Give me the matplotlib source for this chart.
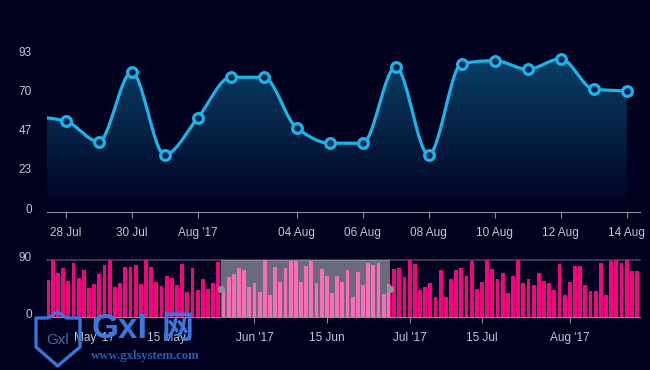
import numpy as np
import pandas as pd
import matplotlib
matplotlib.use('Agg')
import matplotlib.pyplot as plt
import matplotlib.dates as mdates
from matplotlib.colors import LinearSegmentedColormap
from matplotlib.patches import Polygon, Rectangle
from matplotlib.transforms import ScaledTranslation

plt.rcParams['font.family'] = ['Liberation Sans', 'DejaVu Sans']

# main chart, first day sits left of the visible range
main_start = '2017-07-27'
main_values = [56.7, 53.6, 41.4, 82.5, 33.7, 55.4, 79.5, 79.5, 49.5, 40.5,
               40.5, 85.5, 33.7, 87.6, 89.3, 84.2, 90.4, 72.4, 71.4]
main_tick_dates = ['2017-07-28', '2017-07-30', '2017-08-01', '2017-08-04', '2017-08-06',
                   '2017-08-08', '2017-08-10', '2017-08-12', '2017-08-14']
main_tick_labels = ['28 Jul', '30 Jul', "Aug '17", '04 Aug', '06 Aug',
                    '08 Aug', '10 Aug', '12 Aug', '14 Aug']
main_yticks = [0, 23.25, 46.5, 69.75, 93]
main_ylabels = ['0', '23', '47', '70', '93']

# brush chart
bar_start = '2017-04-22'
bar_values = [58, 90, 69, 77, 57, 85, 62, 75, 46, 52, 68, 82, 90, 47, 53, 79, 79, 82, 52, 90,
              79, 55, 49, 65, 61, 51, 84, 40, 77, 42, 60, 45, 53, 87, 45, 63, 68, 78, 75, 47,
              53, 39, 90, 34, 79, 56, 77, 89, 88, 55, 80, 88, 54, 76, 64, 38, 64, 55, 74, 32,
              71, 50, 85, 82, 86, 37, 52, 76, 78, 63, 90, 84, 42, 48, 54, 31, 74, 31, 60, 75,
              77, 65, 88, 44, 55, 90, 76, 60, 70, 38, 65, 90, 53, 60, 51, 70, 57, 54, 42, 84,
              34, 56, 80, 80, 50, 41, 41, 86, 34, 88, 90, 86, 90, 73, 72]
bar_tick_dates = ['2017-05-01', '2017-05-15', '2017-06-01', '2017-06-15',
                  '2017-07-01', '2017-07-15', '2017-08-01']
bar_tick_labels = ["May '17", '15 May', "Jun '17", '15 Jun', "Jul '17", '15 Jul', "Aug '17"]
brush_range = ['2017-05-25 12:00', '2017-06-27 07:00']

BG = '#00001f'
LINE = '#1ab4e8'
TEXT = '#c4c8d4'
AXIS = '#8c8ca4'
PINK = '#f2067e'
W, H = 650, 370


def px_axes(fig, left, top, right, bottom):
    return fig.add_axes([left / W, 1 - bottom / H, (right - left) / W, (bottom - top) / H])


def monotone_curve(x, y, n=30):
    # same idea as d3 curveMonotoneX, only used to draw between the points
    x = np.asarray(x, float)
    y = np.asarray(y, float)
    h = np.diff(x)
    s = np.diff(y) / h
    m = np.zeros(len(x))
    m[1:-1] = np.where(s[:-1] * s[1:] <= 0, 0,
                       2 * s[:-1] * s[1:] / (s[:-1] + s[1:]))
    m[0] = s[0]
    m[-1] = s[-1]
    xs, ys = [], []
    for i in range(len(h)):
        t = np.linspace(0, 1, n)
        xs.append(x[i] + t * h[i])
        ys.append((2*t**3 - 3*t**2 + 1) * y[i] + (t**3 - 2*t**2 + t) * h[i] * m[i]
                  + (-2*t**3 + 3*t**2) * y[i+1] + (t**3 - t**2) * h[i] * m[i+1])
    return np.concatenate(xs), np.concatenate(ys)


def style_axes(ax):
    ax.set_facecolor('none')
    for s in ['top', 'right', 'left']:
        ax.spines[s].set_visible(False)
    ax.spines['bottom'].set_color(AXIS)
    ax.spines['bottom'].set_linewidth(0.8)
    ax.tick_params(axis='x', colors=AXIS, length=4, width=0.8, labelcolor=TEXT,
                   labelsize=8.5, pad=7)
    ax.tick_params(axis='y', length=0, labelcolor=TEXT, labelsize=8.5, pad=10.8)
    shift = ScaledTranslation(0, 3.4 / 100, ax.figure.dpi_scale_trans)
    for lab in ax.get_yticklabels():
        lab.set_transform(lab.get_transform() + shift)


fig = plt.figure(figsize=(W / 100, H / 100), dpi=100, facecolor=BG)

# main chart
ax = px_axes(fig, 46.7, 54.4, 640, 211.7)
main_dates = pd.date_range(main_start, periods=len(main_values))
xnum = mdates.date2num(main_dates)
x0 = mdates.date2num(pd.Timestamp('2017-07-28'))
cx, cy = monotone_curve(xnum, main_values)

cmap = LinearSegmentedColormap.from_list('fade', [BG, '#0a3f66'])
grad = np.linspace(1, 0, 200).reshape(-1, 1)
img = ax.imshow(grad, cmap=cmap, vmin=0, vmax=1, aspect='auto', zorder=1,
                extent=[xnum[0], xnum[-1], 0, max(main_values)])
ax.set_xlim(x0 - 19 / 33, x0 + 574.3 / 33)
ax.set_ylim(0, 93)
poly = Polygon(np.column_stack([np.r_[cx, cx[-1], cx[0]], np.r_[cy, 0, 0]]),
               closed=True, transform=ax.transData, facecolor='none', edgecolor='none')
ax.add_patch(poly)
img.set_clip_path(poly)

ax.plot(cx, cy, color=LINE, lw=2.3, zorder=3, solid_capstyle='round')
ax.plot(main_dates[1:], main_values[1:], ls='none', marker='o', ms=7, mew=2.3,
        mec=LINE, mfc='#03234a', zorder=4, clip_on=False)

ax.set_xticks(mdates.date2num(pd.to_datetime(main_tick_dates)))
ax.set_xticklabels(main_tick_labels)
ax.set_yticks(main_yticks)
ax.set_yticklabels(main_ylabels)
style_axes(ax)

# brush chart
ax2 = px_axes(fig, 46.7, 260, 640, 317)
bar_dates = pd.date_range(bar_start, periods=len(bar_values))
bnum = mdates.date2num(bar_dates)
ax2.bar(bnum, bar_values, width=0.74, color=PINK, zorder=2)
ax2.set_xlim(bnum[0] - 1 / 5.17, bnum[0] + 592.3 / 5.17)
ax2.set_ylim(0, 90)
ax2.axhline(90, color='#44445f', lw=1.2, zorder=1, clip_on=False)

b0, b1 = mdates.date2num(pd.to_datetime(brush_range))
ax2.add_patch(Rectangle((b0, 0), b1 - b0, 90, facecolor='white', alpha=0.42,
                        edgecolor='none', zorder=3))
ax2.plot([b0, b1], [45, 45], ls='none', marker='o', ms=5.4, color='#8e8e96',
         mew=0, zorder=4, clip_on=False)

ax2.set_xticks(mdates.date2num(pd.to_datetime(bar_tick_dates)))
ax2.set_xticklabels(bar_tick_labels)
ax2.set_yticks([0, 90])
ax2.set_yticklabels(['0', '90'])
style_axes(ax2)

# site watermark stamped over the lower left corner
wm = fig.add_axes([0, 0, 1, 1], zorder=10)
wm.set_xlim(0, W)
wm.set_ylim(H, 0)
wm.axis('off')
wm.patch.set_alpha(0)
shield = [(57.7, 312), (48, 318), (36, 318), (36, 347), (57.7, 366), (80, 347), (80, 318), (67, 318)]
wm.add_patch(Polygon(shield, closed=True, facecolor='none', edgecolor='#3a74d8', lw=2.4, joinstyle='round'))
wm.text(57.5, 339.5, 'Gxl', color='#3a6ca8', fontsize=11, ha='center', va='center')
wm.text(120, 329, 'GxI', color='#3a78dc', fontsize=25, fontweight='bold', ha='center', va='center')
wm.text(178, 329, '网', color='#3a78dc', fontsize=23, fontweight='bold', ha='center', va='center',
        family=['Noto Sans CJK SC', 'DejaVu Sans'])
wm.text(145, 356.5, 'www.gxlsystem.com', color='#2f5ca8', fontsize=9.2, fontweight='bold',
        ha='center', va='center', family='Liberation Serif')

fig.savefig('out.png', dpi=100, facecolor=BG)
